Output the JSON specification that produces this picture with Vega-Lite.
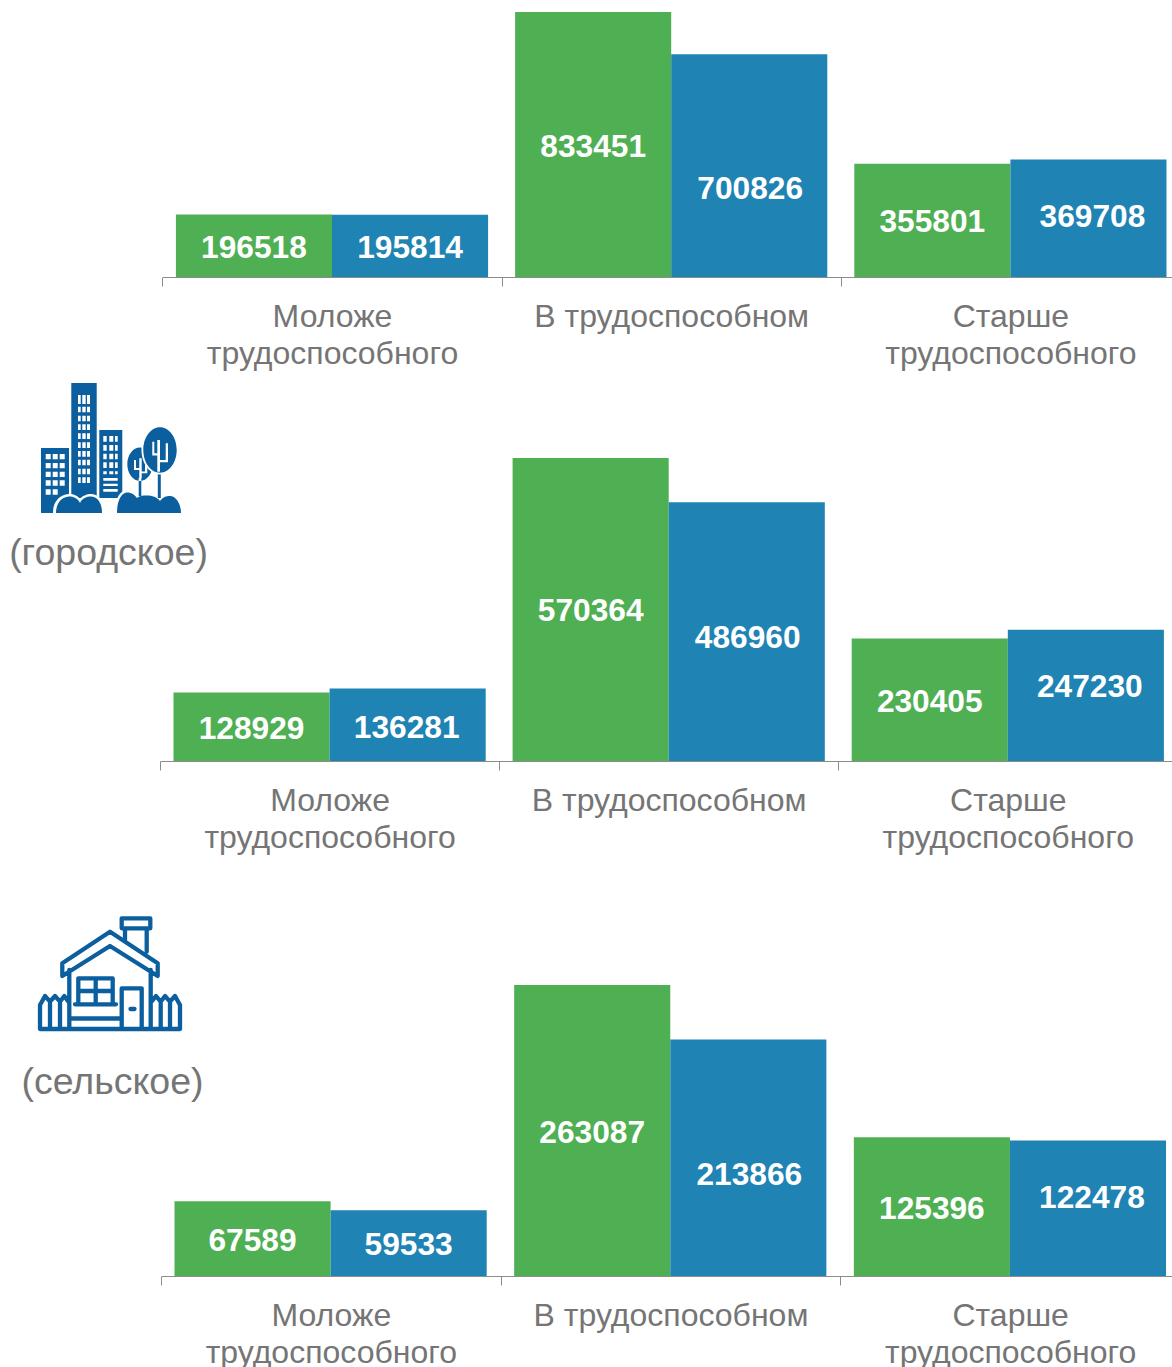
{"$schema":"https://vega.github.io/schema/vega-lite/v6.json","background":"white","padding":{"top":12,"left":0,"right":0,"bottom":0},"bounds":"flush","columns":2,"spacing":{"row":100,"column":0},"config":{"view":{"stroke":null}},
"concat":[
{"width":160,"height":265,"data":{"values":[{"part":"пусто"}]},"mark":{"type":"text","text":""},"encoding":{}},
{"width":1019,"height":265,"data":{"values":[
{"group":"Моложе трудоспособного","series":"ряд 1","value":196518},{"group":"Моложе трудоспособного","series":"ряд 2","value":195814},
{"group":"В трудоспособном","series":"ряд 1","value":833451},{"group":"В трудоспособном","series":"ряд 2","value":700826},
{"group":"Старше трудоспособного","series":"ряд 1","value":355801},{"group":"Старше трудоспособного","series":"ряд 2","value":369708}]},
"encoding":{"x":{"field":"group","type":"nominal","scale":{"domain":["Моложе трудоспособного","В трудоспособном","Старше трудоспособного"],"range":[2.4,1020],"paddingInner":0,"paddingOuter":0},"axis":{"title":null,"labelAngle":0,"tickBand":"extent","tickSize":9,"tickColor":"#8c8c8c","domainColor":"#8c8c8c","labelFont":"Liberation Sans","labelFontSize":32,"labelColor":"#757575","labelPadding":15,"labelLineHeight":37,"labelLimit":0,"labelOverlap":false,"labelBaseline":"top","labelExpr":"datum.label == 'В трудоспособном' ? datum.label : split(datum.label,' ')"}},"xOffset":{"field":"series","type":"nominal","scale":{"domain":["ряд 1","ряд 2"],"paddingInner":0,"paddingOuter":0.0865}}},
"resolve":{"scale":{"y":"independent"}},
"layer":[
{"mark":{"type":"bar"},"encoding":{"y":{"field":"value","type":"quantitative","scale":{"domain":[0,833451],"nice":false},"axis":null},"color":{"field":"series","type":"nominal","scale":{"domain":["ряд 1","ряд 2"],"range":["#4FAF53","#1F83B3"]},"legend":null}}},
{"encoding":{"y":{"field":"value","type":"quantitative","scale":{"domain":[0,1666902],"nice":false},"axis":null},"text":{"field":"value","type":"quantitative","format":"d"}},
"layer":[
{"transform":[{"filter":"datum.value!=700826 && datum.value!=369708"}],"mark":{"type":"text","font":"Liberation Sans","fontWeight":"bold","fontSize":31.7,"color":"white","dy":2}},
{"transform":[{"filter":"datum.value==700826"}],"mark":{"type":"text","font":"Liberation Sans","fontWeight":"bold","fontSize":31.7,"color":"white","dy":23,"dx":1}},
{"transform":[{"filter":"datum.value==369708"}],"mark":{"type":"text","font":"Liberation Sans","fontWeight":"bold","fontSize":31.7,"color":"white","dy":-1,"dx":4}}
]}
]},
{"width":160,"height":384,"data":{"values":[{"part":"значок"},{"part":"подпись","label":"(городское)"}]},
"encoding":{"x":{"field":"part","type":"nominal","scale":{"type":"point","padding":0,"domain":["значок","подпись"],"range":[111,108.5]},"axis":null},"y":{"field":"part","type":"nominal","scale":{"type":"point","padding":0,"domain":["значок","подпись"],"range":[71,177]},"axis":null}},
"layer":[
{"transform":[{"filter":"datum.part=='значок'"}],"mark":{"type":"point","size":4,"filled":true,"opacity":1,"color":"#0B5F9E","shape":"M-70 0H-42V65H-70ZM-39.7 -65H-14.3V50H-39.7ZM-11.7 -18H11.3V50H-11.7ZM16.3 16.3A12.7 16.7 0 1 0 41.7 16.3A12.7 16.7 0 1 0 16.3 16.3ZM27.7 30H30.3V48H27.7ZM46.8 25H49.8V50H46.8Z"}},
{"transform":[{"filter":"datum.part=='значок'"}],"mark":{"type":"point","size":4,"filled":true,"opacity":1,"color":"#FFFFFF","shape":"M-65.3 6H-60.3V11.3H-65.3ZM-58.3 6H-53.3V11.3H-58.3ZM-51.3 6H-46.3V11.3H-51.3ZM-65.3 15H-60.3V20.3H-65.3ZM-58.3 15H-53.3V20.3H-58.3ZM-51.3 15H-46.3V20.3H-51.3ZM-65.3 23.7H-60.3V29H-65.3ZM-58.3 23.7H-53.3V29H-58.3ZM-51.3 23.7H-46.3V29H-51.3ZM-65.3 32.3H-60.3V37.7H-65.3ZM-58.3 32.3H-53.3V37.7H-58.3ZM-51.3 32.3H-46.3V37.7H-51.3ZM-65.3 41.3H-60.3V46.7H-65.3ZM-58.3 41.3H-53.3V46.7H-58.3ZM-33 -53H-30.3V-44H-33ZM-28.7 -53H-25.3V-44H-28.7ZM-24 -53H-21V-44H-24ZM-33 -41.3H-30.3V-35.7H-33ZM-28.7 -41.3H-25.3V-35.7H-28.7ZM-24 -41.3H-21V-35.7H-24ZM-33 -32.3H-30.3V-26.7H-33ZM-28.7 -32.3H-25.3V-26.7H-28.7ZM-24 -32.3H-21V-26.7H-24ZM-33 -23.7H-30.3V-18H-33ZM-28.7 -23.7H-25.3V-18H-28.7ZM-24 -23.7H-21V-18H-24ZM-33 -14.7H-30.3V-9H-33ZM-28.7 -14.7H-25.3V-9H-28.7ZM-24 -14.7H-21V-9H-24ZM-33 -5.7H-30.3V0H-33ZM-28.7 -5.7H-25.3V0H-28.7ZM-24 -5.7H-21V0H-24ZM-33 3H-30.3V8.7H-33ZM-28.7 3H-25.3V8.7H-28.7ZM-24 3H-21V8.7H-24ZM-33 11.7H-30.3V17.3H-33ZM-28.7 11.7H-25.3V17.3H-28.7ZM-24 11.7H-21V17.3H-24ZM-33 20.7H-30.3V26.3H-33ZM-28.7 20.7H-25.3V26.3H-28.7ZM-24 20.7H-21V26.3H-24ZM-33 29.3H-30.3V35H-33ZM-28.7 29.3H-25.3V35H-28.7ZM-24 29.3H-21V35H-24ZM-7.7 -12H-4.3V-6.3H-7.7ZM-1.7 -12H2.3V-6.3H-1.7ZM4 -12H6.7V-6.3H4ZM-7.7 -3H-4.3V2.7H-7.7ZM-1.7 -3H2.3V2.7H-1.7ZM4 -3H6.7V2.7H4ZM-7.7 5.7H-4.3V11.3H-7.7ZM-1.7 5.7H2.3V11.3H-1.7ZM4 5.7H6.7V11.3H4ZM-7.7 14.3H-4.3V20H-7.7ZM-1.7 14.3H2.3V20H-1.7ZM4 14.3H6.7V20H4ZM-7.7 23.3H-4.3V26.3H-7.7ZM-1.7 23.3H2.3V26.3H-1.7ZM4 23.3H6.7V26.3H4ZM-7.7 30H6.7V32.7H-7.7ZM-7.7 35.7H6.7V38H-7.7ZM-7.7 41H6.7V43.7H-7.7ZM30.5 2A18.5 24.5 0 1 0 67.5 2A18.5 24.5 0 1 0 30.5 2ZM-58 65C-58 50 -47 46 -42 46C-37 46 -33 48 -31 51C-29 48 -24 46 -20 46C-13 46 -6 52 -6 65ZM3.5 65C3.5 50 10 42 16 42C21 42 25 44 27 47L27 65Z"}},
{"transform":[{"filter":"datum.part=='значок'"}],"mark":{"type":"point","size":4,"filled":true,"opacity":1,"color":"#0B5F9E","shape":"M32.3 2A16.7 22.7 0 1 0 65.7 2A16.7 22.7 0 1 0 32.3 2ZM-55 65C-55 52 -46 48.5 -42 48.5C-38 48.5 -33 50 -31 55C-29 50 -24 48.5 -20 48.5C-15 48.5 -9 53 -9 65ZM6 65C6 52 11 44.5 16 44.5C21 44.5 24 47 26 50C29 47.5 32 47.5 36 47.5C41 47.5 46 49 49 53C52 49 55 48 59 48C65 48 70 56 70 65Z"}},
{"transform":[{"filter":"datum.part=='значок'"}],"mark":{"type":"point","size":4,"filled":true,"opacity":1,"color":"#FFFFFF","shape":"M46.3 -8H49V23.7H46.3ZM41.3 -6.3H43.3V5.3H46.3V7.5H41.3ZM54.7 -4.7H57V14.3H49V12H54.7ZM28.3 10.3H30.7V30.3H28.3ZM23 12H25V20H28.3V22H23ZM34 17H36.3V25.3H30.7V23.5H34Z"}},
{"transform":[{"filter":"datum.part=='подпись'"}],"mark":{"type":"text","font":"Liberation Sans","fontSize":37.5,"color":"#757575"},"encoding":{"text":{"field":"label"}}}
]},
{"width":1019,"height":384,"data":{"values":[
{"group":"Моложе трудоспособного","series":"ряд 1","value":128929},{"group":"Моложе трудоспособного","series":"ряд 2","value":136281},
{"group":"В трудоспособном","series":"ряд 1","value":570364},{"group":"В трудоспособном","series":"ряд 2","value":486960},
{"group":"Старше трудоспособного","series":"ряд 1","value":230405},{"group":"Старше трудоспособного","series":"ряд 2","value":247230}]},
"encoding":{"x":{"field":"group","type":"nominal","scale":{"domain":["Моложе трудоспособного","В трудоспособном","Старше трудоспособного"],"range":[0,1017.3],"paddingInner":0,"paddingOuter":0},"axis":{"title":null,"labelAngle":0,"tickBand":"extent","tickSize":9,"tickColor":"#8c8c8c","domainColor":"#8c8c8c","labelFont":"Liberation Sans","labelFontSize":32,"labelColor":"#757575","labelPadding":15,"labelLineHeight":37,"labelLimit":0,"labelOverlap":false,"labelBaseline":"top","labelExpr":"datum.label == 'В трудоспособном' ? datum.label : split(datum.label,' ')"}},"xOffset":{"field":"series","type":"nominal","scale":{"domain":["ряд 1","ряд 2"],"paddingInner":0,"paddingOuter":0.0865}}},
"resolve":{"scale":{"y":"independent"}},
"layer":[
{"mark":{"type":"bar"},"encoding":{"y":{"field":"value","type":"quantitative","scale":{"domain":[0,722830],"nice":false},"axis":null},"color":{"field":"series","type":"nominal","scale":{"domain":["ряд 1","ряд 2"],"range":["#4FAF53","#1F83B3"]},"legend":null}}},
{"encoding":{"y":{"field":"value","type":"quantitative","scale":{"domain":[0,1445660],"nice":false},"axis":null},"text":{"field":"value","type":"quantitative","format":"d"}},
"layer":[
{"transform":[{"filter":"datum.value!=486960 && datum.value!=247230 && datum.value!=136281"}],"mark":{"type":"text","font":"Liberation Sans","fontWeight":"bold","fontSize":31.7,"color":"white","dy":2}},
{"transform":[{"filter":"datum.value==486960"}],"mark":{"type":"text","font":"Liberation Sans","fontWeight":"bold","fontSize":31.7,"color":"white","dy":6,"dx":1}},
{"transform":[{"filter":"datum.value==247230"}],"mark":{"type":"text","font":"Liberation Sans","fontWeight":"bold","fontSize":31.7,"color":"white","dy":-8,"dx":4}},
{"transform":[{"filter":"datum.value==136281"}],"mark":{"type":"text","font":"Liberation Sans","fontWeight":"bold","fontSize":31.7,"color":"white","dy":3,"dx":-1}}
]}
]},
{"width":160,"height":415,"data":{"values":[{"part":"значок"},{"part":"подпись","label":"(сельское)"}]},
"encoding":{"x":{"field":"part","type":"nominal","scale":{"type":"point","padding":0,"domain":["значок","подпись"],"range":[110,112.5]},"axis":null},"y":{"field":"part","type":"nominal","scale":{"type":"point","padding":0,"domain":["значок","подпись"],"range":[113.5,222]},"axis":null}},
"layer":[
{"transform":[{"filter":"datum.part=='значок'"}],"mark":{"type":"point","size":4,"filled":false,"opacity":1,"color":"#0B5F9E","strokeWidth":4.3,"strokeJoin":"round","strokeCap":"round","shape":"M11.7 -56.2H40.3V-46.2H11.7ZM15 -44.5V-34.5M36.7 -44.5V-22.8M0 -42.8L47.7 -11.2V1.5L0 -28.5L-47.7 1.5V-11.2ZM-40.7 -4.5V54.5H40.7V-4.5M-40.7 44H11.7M11.7 13.8H31.7V54.5H11.7ZM-31.7 3.8H2.7V29.8H-31.7ZM-14.3 3.8V29.8M-31.7 16.5H2.7M-35 29.8H6M20.5 34.5H24.5M-40.7 54.5H-70V30.5L-65 21.5L-60 27.2L-55 21.5L-50 27.2L-45.7 21.5L-41.7 27M-60 27.2V54.5M-50 27.2V54.5M40.7 54.5H70V30.5L65 21.5L60 27.2L55 21.5L50.7 27.2L46 21.5L41.7 27M60 27.2V54.5M50.7 27.2V54.5"}},
{"transform":[{"filter":"datum.part=='подпись'"}],"mark":{"type":"text","font":"Liberation Sans","fontSize":37.5,"color":"#757575"},"encoding":{"text":{"field":"label"}}}
]},
{"width":1019,"height":415,"data":{"values":[
{"group":"Моложе трудоспособного","series":"ряд 1","value":67589},{"group":"Моложе трудоспособного","series":"ряд 2","value":59533},
{"group":"В трудоспособном","series":"ряд 1","value":263087},{"group":"В трудоспособном","series":"ряд 2","value":213866},
{"group":"Старше трудоспособного","series":"ряд 1","value":125396},{"group":"Старше трудоспособного","series":"ряд 2","value":122478}]},
"encoding":{"x":{"field":"group","type":"nominal","scale":{"domain":["Моложе трудоспособного","В трудоспособном","Старше трудоспособного"],"range":[1,1020],"paddingInner":0,"paddingOuter":0},"axis":{"title":null,"labelAngle":0,"tickBand":"extent","tickSize":9,"tickColor":"#8c8c8c","domainColor":"#8c8c8c","labelFont":"Liberation Sans","labelFontSize":32,"labelColor":"#757575","labelPadding":15,"labelLineHeight":37,"labelLimit":0,"labelOverlap":false,"labelBaseline":"top","labelExpr":"datum.label == 'В трудоспособном' ? datum.label : split(datum.label,' ')"}},"xOffset":{"field":"series","type":"nominal","scale":{"domain":["ряд 1","ряд 2"],"paddingInner":0,"paddingOuter":0.0865}}},
"resolve":{"scale":{"y":"independent"}},
"layer":[
{"mark":{"type":"bar"},"encoding":{"y":{"field":"value","type":"quantitative","scale":{"domain":[0,375195],"nice":false},"axis":null},"color":{"field":"series","type":"nominal","scale":{"domain":["ряд 1","ряд 2"],"range":["#4FAF53","#1F83B3"]},"legend":null}}},
{"encoding":{"y":{"field":"value","type":"quantitative","scale":{"domain":[0,750390],"nice":false},"axis":null},"text":{"field":"value","type":"quantitative","format":"d"}},
"layer":[
{"transform":[{"filter":"datum.value!=213866 && datum.value!=122478"}],"mark":{"type":"text","font":"Liberation Sans","fontWeight":"bold","fontSize":31.7,"color":"white","dy":2}},
{"transform":[{"filter":"datum.value==213866"}],"mark":{"type":"text","font":"Liberation Sans","fontWeight":"bold","fontSize":31.7,"color":"white","dy":17,"dx":1}},
{"transform":[{"filter":"datum.value==122478"}],"mark":{"type":"text","font":"Liberation Sans","fontWeight":"bold","fontSize":31.7,"color":"white","dy":-10,"dx":4}}
]}
]}
]}
